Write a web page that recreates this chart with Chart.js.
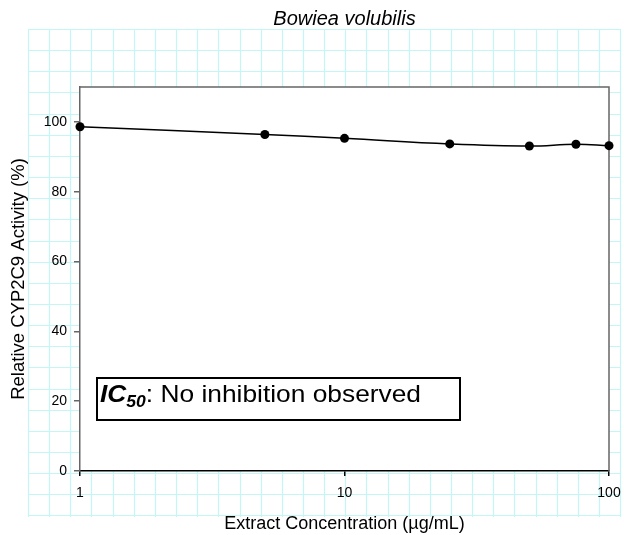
<!DOCTYPE html>
<html>
<head>
<meta charset="utf-8">
<script src="https://cdn.jsdelivr.net/npm/chart.js@4/dist/chart.umd.min.js"></script>
<style>
  html, body { margin: 0; padding: 0; background: #fff; }
  #wrap { width: 624px; height: 535px; position: relative; }
</style>
</head>
<body>
<div id="wrap"><canvas id="c" width="624" height="535"></canvas></div>
<script>
// Extract concentration (µg/mL) and relative CYP2C9 activity (%)
const concentrations = [1, 5, 10, 25, 50, 75, 100];
const activity = [98.6, 96.4, 95.3, 93.7, 93.1, 93.6, 93.2];
const xTickValues = [1, 10, 100];
const yTickValues = [0, 20, 40, 60, 80, 100];

const FONT = "'Liberation Sans', Arial, sans-serif";

// Spreadsheet-style cell grid behind the chart, plus white plot area and frame
const backdrop = {
  id: 'backdrop',
  beforeDraw(chart) {
    const ctx = chart.ctx;
    const a = chart.chartArea;
    ctx.save();
    ctx.strokeStyle = '#c4f6f6';
    ctx.lineWidth = 1.2;
    const step = 21.15, x0 = 28, y0 = 29, x1 = 620, y1 = 517;
    ctx.beginPath();
    for (let x = x0; x <= x1 + 0.5; x += step) {
      ctx.moveTo(Math.round(x) + 0.5, y0);
      ctx.lineTo(Math.round(x) + 0.5, y1);
    }
    for (let y = y0; y <= y1 + 0.5; y += step) {
      ctx.moveTo(x0, Math.round(y) + 0.5);
      ctx.lineTo(x1, Math.round(y) + 0.5);
    }
    ctx.stroke();
    ctx.fillStyle = '#fff';
    ctx.fillRect(a.left, a.top, a.right - a.left, a.bottom - a.top);
    ctx.restore();
  },
  beforeDatasetsDraw(chart) {
    const ctx = chart.ctx;
    const a = chart.chartArea;
    ctx.save();
    ctx.strokeStyle = '#666';
    ctx.lineWidth = 1.5;
    ctx.beginPath();
    ctx.moveTo(a.left, a.top);
    ctx.lineTo(a.right, a.top);
    ctx.lineTo(a.right, a.bottom);
    ctx.stroke();
    ctx.restore();
  },
  afterDraw(chart) {
    // IC50 note box
    const ctx = chart.ctx;
    const a = chart.chartArea;
    const left = a.left + 17, top = a.bottom - 93, w = 363, h = 42;
    ctx.save();
    ctx.fillStyle = '#fff';
    ctx.fillRect(left, top, w, h);
    ctx.strokeStyle = '#000';
    ctx.lineWidth = 2;
    ctx.strokeRect(left, top, w, h);
    ctx.fillStyle = '#000';
    ctx.textBaseline = 'alphabetic';
    ctx.textAlign = 'left';
    const base = top + 23.5;
    const parts = [
      { t: 'IC', f: `italic bold 24px ${FONT}`, dy: 0 },
      { t: '50', f: `italic bold 16px ${FONT}`, dy: 5 },
      { t: ': No inhibition observed', f: `24px ${FONT}`, dy: 0 }
    ];
    let total = 0;
    parts.forEach(p => { ctx.font = p.f; p.w = ctx.measureText(p.t).width; total += p.w; });
    // text runs slightly wide, filling most of the box
    const sx = (w - 42) / total;
    ctx.translate(left + 3, base);
    ctx.scale(sx, 1);
    let x = 0;
    parts.forEach(p => { ctx.font = p.f; ctx.fillText(p.t, x, p.dy); x += p.w; });
    ctx.restore();
  }
};

new Chart(document.getElementById('c'), {
  type: 'line',
  data: {
    datasets: [{
      data: concentrations.map((c, i) => ({ x: c, y: activity[i] })),
      borderColor: '#000',
      borderWidth: 1.5,
      tension: 0.4,
      fill: false,
      pointRadius: 4.5,
      pointBackgroundColor: '#000',
      pointBorderColor: '#000',
      pointBorderWidth: 0,
      clip: false
    }]
  },
  options: {
    responsive: false,
    animation: false,
    layout: { padding: { left: 0, right: 15, top: 0, bottom: 0 } },
    plugins: {
      legend: { display: false },
      tooltip: { enabled: false },
      title: {
        display: true,
        fullSize: false,
        text: 'Bowiea volubilis',
        color: '#000',
        font: { family: FONT, size: 20, style: 'italic', weight: 'normal' },
        padding: { top: 7, bottom: 56 }
      }
    },
    scales: {
      x: {
        type: 'logarithmic',
        min: 1,
        max: 100,
        afterBuildTicks: s => { s.ticks = xTickValues.map(v => ({ value: v })); },
        afterFit: s => { s.height = 64; s.paddingLeft = 0; s.paddingRight = 0; },
        ticks: {
          callback: v => String(v),
          color: '#000',
          font: { family: FONT, size: 14 },
          padding: 9,
          maxRotation: 0,
          autoSkip: false
        },
        grid: { drawOnChartArea: false, drawTicks: true, tickLength: 5, color: '#000', lineWidth: 1.5 },
        border: { display: true, color: '#000', width: 1.5 },
        title: {
          display: true,
          text: 'Extract Concentration (µg/mL)',
          color: '#000',
          font: { family: FONT, size: 18 },
          padding: { top: 0, bottom: 0 }
        }
      },
      y: {
        min: 0,
        max: 110,
        afterBuildTicks: s => { s.ticks = yTickValues.map(v => ({ value: v })); },
        afterFit: s => { s.width = 80; s.paddingTop = 0; s.paddingBottom = 0; },
        ticks: {
          color: '#000',
          font: { family: FONT, size: 14 },
          padding: 7
        },
        grid: { drawOnChartArea: false, drawTicks: true, tickLength: 6, color: '#666', lineWidth: 1.5 },
        border: { display: true, color: '#666', width: 1.5 },
        title: {
          display: true,
          text: 'Relative CYP2C9 Activity (%)',
          color: '#000',
          font: { family: FONT, size: 18.5 },
          padding: { top: 8, bottom: 0 }
        }
      }
    }
  },
  plugins: [backdrop]
});
</script>
</body>
</html>
